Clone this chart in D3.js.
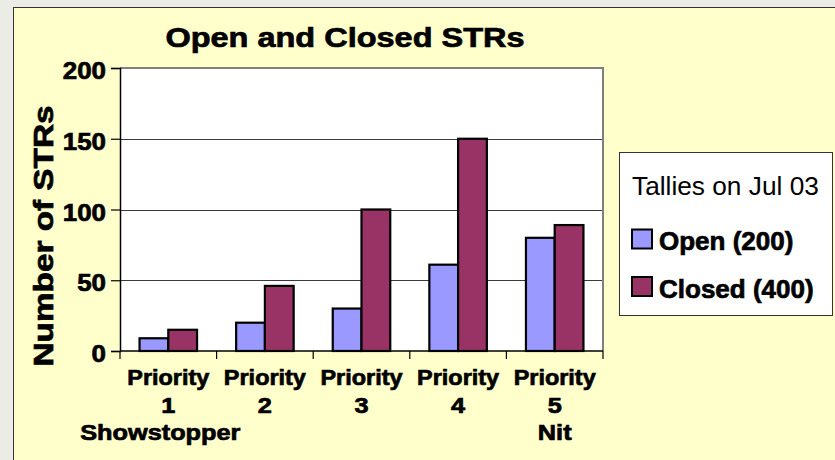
<!DOCTYPE html>
<html>
<head>
<meta charset="utf-8">
<script src="https://cdn.jsdelivr.net/npm/d3@7"></script>
<style>
  html, body { margin: 0; padding: 0; background: #ECECE6; }
  svg { display: block; font-family: "Liberation Sans", Arial, sans-serif; }
  .heavy { stroke: #000; stroke-width: 0.7px; paint-order: stroke; }
</style>
</head>
<body>
<svg id="chart" width="835" height="460"></svg>
<script>
// ---- data ----
const categories = ["Priority 1", "Priority 2", "Priority 3", "Priority 4", "Priority 5"];
const categoryLines = [
  ["Priority", "1", "Showstopper"],
  ["Priority", "2"],
  ["Priority", "3"],
  ["Priority", "4"],
  ["Priority", "5", "Nit"]
];
const seriesNames = ["Open", "Closed"];
const openValues = [9, 20, 30, 61, 80];
const closedValues = [15, 46, 100, 150, 89];
const yTicks = [0, 50, 100, 150, 200];
const chartTitle = "Open and Closed STRs";
const yTitle = "Number of STRs";
const legendTitle = "Tallies on Jul 03";

// ---- layout ----
const W = 835, H = 460;
const plot = { left: 120, top: 68, right: 603, bottom: 351 };
const colors = { Open: "#9999FF", Closed: "#993366" };
const valuesBySeries = { Open: openValues, Closed: closedValues };

const svg = d3.select("#chart");

// stretch text horizontally by factor k (keeps it as real text)
function stretch(sel, k) {
  sel.each(function () {
    const len = this.getComputedTextLength();
    d3.select(this).attr("textLength", len * k).attr("lengthAdjust", "spacingAndGlyphs");
  });
}

// chart area background
svg.append("rect")
  .attr("x", 13.5).attr("y", 7.5)
  .attr("width", W).attr("height", H)
  .attr("fill", "#FFFFCC")
  .attr("stroke", "#333").attr("stroke-width", 1);

// scales
const x = d3.scaleBand().domain(categories).range([plot.left, plot.right]).paddingInner(0).paddingOuter(0);
const xs = d3.scaleBand().domain(seriesNames).range([0, x.bandwidth()]).paddingInner(0).paddingOuter(0.68);
const y = d3.scaleLinear().domain([0, 200]).range([plot.bottom, plot.top]);

// plot area
svg.append("rect")
  .attr("x", plot.left).attr("y", plot.top)
  .attr("width", plot.right - plot.left).attr("height", plot.bottom - plot.top)
  .attr("fill", "#FFFFFF");

// gridlines
svg.append("g").selectAll("line")
  .data(yTicks.filter(t => t > 0 && t < 200))
  .join("line")
  .attr("x1", plot.left).attr("x2", plot.right)
  .attr("y1", d => Math.round(y(d)) + 0.5).attr("y2", d => Math.round(y(d)) + 0.5)
  .attr("stroke", "#3a3a3a").attr("stroke-width", 1);

// plot border (top and right)
svg.append("path")
  .attr("d", `M${plot.left},${plot.top}H${plot.right}V${plot.bottom}`)
  .attr("fill", "none").attr("stroke", "#808080").attr("stroke-width", 2);

// bars
const groups = svg.append("g").selectAll("g")
  .data(categories)
  .join("g")
  .attr("transform", d => `translate(${x(d)},0)`);

groups.selectAll("rect")
  .data((d, i) => seriesNames.map(s => ({ s, v: valuesBySeries[s][i] })))
  .join("rect")
  .attr("x", d => xs(d.s))
  .attr("y", d => y(d.v))
  .attr("width", xs.bandwidth())
  .attr("height", d => y(0) - y(d.v))
  .attr("fill", d => colors[d.s])
  .attr("stroke", "#000").attr("stroke-width", 2.2);

// y axis
const yAxis = svg.append("g")
  .attr("transform", `translate(${plot.left},0)`)
  .call(d3.axisLeft(y).tickValues(yTicks).tickSize(9).tickPadding(5));
yAxis.select(".domain").attr("stroke", "#000").attr("stroke-width", 1.5);
yAxis.selectAll(".tick line").attr("stroke", "#000").attr("stroke-width", 1.2);
yAxis.selectAll(".tick text")
  .attr("class", "heavy")
  .attr("font-family", "'Liberation Sans', Arial, sans-serif")
  .attr("font-size", 24).attr("font-weight", "bold").attr("fill", "#000")
  .attr("dy", "0.44em")
  .call(stretch, 1.08);

// x axis line and boundary ticks
const xAxis = svg.append("g");
xAxis.append("line")
  .attr("x1", plot.left).attr("x2", plot.right)
  .attr("y1", plot.bottom).attr("y2", plot.bottom)
  .attr("stroke", "#000").attr("stroke-width", 1.5);
const edges = categories.map(c => x(c)).concat([x.range()[1]]);
xAxis.selectAll("line.edge")
  .data(edges)
  .join("line").attr("class", "edge")
  .attr("x1", d => d).attr("x2", d => d)
  .attr("y1", plot.bottom).attr("y2", plot.bottom + 8)
  .attr("stroke", "#000").attr("stroke-width", 1.2);

// category labels (multi-line)
const lineY = [385, 412.5, 440];
categoryLines.forEach((lines, i) => {
  const cx = x(categories[i]) + x.bandwidth() / 2;
  lines.forEach((t, j) => {
    svg.append("text")
      .attr("class", "heavy")
      .attr("x", j === 2 && i === 0 ? cx - 8 : cx)
      .attr("y", lineY[j])
      .attr("text-anchor", "middle")
      .attr("font-size", 22).attr("font-weight", "bold")
      .attr("fill", "#000")
      .text(t)
      .call(stretch, j === 0 ? 1.065 : 1.15);
  });
});

// chart title
svg.append("text")
  .attr("class", "heavy")
  .attr("x", 345).attr("y", 46.5)
  .attr("text-anchor", "middle")
  .attr("font-size", 28).attr("font-weight", "bold").attr("fill", "#000")
  .text(chartTitle)
  .call(stretch, 1.16);

// y axis title
svg.append("text")
  .attr("class", "heavy")
  .attr("transform", "translate(53,236) rotate(-90)")
  .attr("text-anchor", "middle")
  .attr("font-size", 28).attr("font-weight", "bold").attr("fill", "#000")
  .text(yTitle)
  .call(stretch, 1.19);

// legend
const legend = svg.append("g");
legend.append("rect")
  .attr("x", 619.5).attr("y", 152.5)
  .attr("width", 213).attr("height", 163)
  .attr("fill", "#FFFFFF").attr("stroke", "#333").attr("stroke-width", 1);
legend.append("text")
  .attr("x", 632).attr("y", 195)
  .attr("font-size", 26).attr("fill", "#000")
  .text(legendTitle)
  .call(stretch, 1.01);

const legendRows = seriesNames.map(s => ({
  s,
  label: `${s} (${d3.sum(valuesBySeries[s])})`
}));
const rowY = [250, 297.5];
legendRows.forEach((r, i) => {
  legend.append("rect")
    .attr("x", 632).attr("y", rowY[i] - 20.5)
    .attr("width", 20).attr("height", 19)
    .attr("fill", colors[r.s])
    .attr("stroke", "#000").attr("stroke-width", 2);
  legend.append("text")
    .attr("class", "heavy")
    .attr("x", 659).attr("y", rowY[i])
    .attr("font-size", 26).attr("font-weight", "bold").attr("fill", "#000")
    .text(r.label);
});
</script>
</body>
</html>
